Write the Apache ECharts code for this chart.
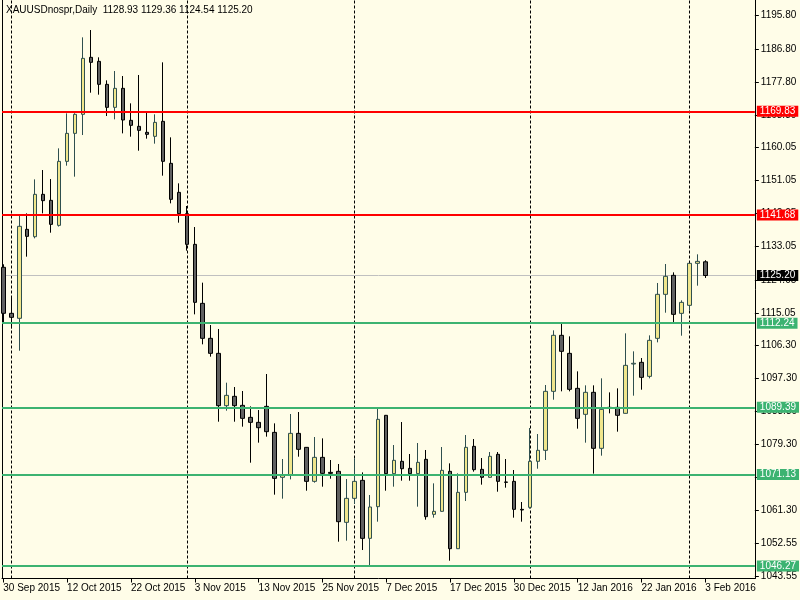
<!DOCTYPE html>
<html><head><meta charset="utf-8">
<script src="https://cdn.jsdelivr.net/npm/echarts@6/dist/echarts.min.js"></script>
<style>html,body{margin:0;padding:0;background:#FFFDE8}#c{width:800px;height:600px}</style>
</head><body><div id="c"></div>
<script>
const symbolTitle = 'XAUUSDnospr,Daily  1128.93 1129.36 1124.54 1125.20';
const dates = [
'2015-09-30',
'2015-10-01','2015-10-02','2015-10-05','2015-10-06','2015-10-07','2015-10-08','2015-10-09','2015-10-12','2015-10-13','2015-10-14','2015-10-15','2015-10-16','2015-10-19','2015-10-20','2015-10-21','2015-10-22','2015-10-23','2015-10-26','2015-10-27','2015-10-28','2015-10-29','2015-10-30',
'2015-11-02','2015-11-03','2015-11-04','2015-11-05','2015-11-06','2015-11-09','2015-11-10','2015-11-11','2015-11-12','2015-11-13','2015-11-16','2015-11-17','2015-11-18','2015-11-19','2015-11-20','2015-11-23','2015-11-24','2015-11-25','2015-11-26','2015-11-27','2015-11-30',
'2015-12-01','2015-12-02','2015-12-03','2015-12-04','2015-12-07','2015-12-08','2015-12-09','2015-12-10','2015-12-11','2015-12-14','2015-12-15','2015-12-16','2015-12-17','2015-12-18','2015-12-21','2015-12-22','2015-12-23','2015-12-24','2015-12-28','2015-12-29','2015-12-30','2015-12-31',
'2016-01-04','2016-01-05','2016-01-06','2016-01-07','2016-01-08','2016-01-11','2016-01-12','2016-01-13','2016-01-14','2016-01-15','2016-01-18','2016-01-19','2016-01-20','2016-01-21','2016-01-22','2016-01-25','2016-01-26','2016-01-27','2016-01-28','2016-01-29',
'2016-02-01','2016-02-02','2016-02-03'];
const opens = [1127.43,1114.93,1113.57,1137.75,1135.75,1147.26,1145.63,1138.83,1156.22,1163.83,
1169.00,1184.49,1183.40,1177.15,1170.90,1176.06,1167.37,1165.74,1164.11,1163.02,
1167.10,1155.68,1147.80,1142.01,1133.67,1117.64,1108.13,1104.05,1089.83,1092.37,
1089.92,1086.66,1085.30,1089.65,1082.58,1070.36,1070.90,1082.31,1078.51,1069.27,
1075.79,1071.71,1071.99,1058.13,1064.65,1069.54,1053.78,1062.39,1087.21,1071.36,
1074.71,1072.80,1071.36,1075.25,1060.30,1061.12,1071.99,1050.97,1066.28,1078.78,
1072.53,1070.36,1076.61,1069.10,1069.27,1061.66,1062.21,1074.71,1077.70,1093.73,
1108.95,1104.05,1094.54,1087.48,1093.46,1078.24,1089.38,1089.38,1087.75,1101.15,
1101.61,1097.80,1108.13,1120.09,1125.25,1114.92,1117.10,1128.51,1128.93];
const highs = [1128.25,1119.63,1141.64,1142.09,1151.33,1153.87,1151.42,1159.76,1169.27,1169.30,
1189.92,1191.91,1184.49,1178.24,1180.77,1179.41,1171.99,1179.69,1169.72,1169.00,
1183.13,1162.75,1150.25,1144.09,1138.38,1123.26,1111.75,1110.67,1096.08,1094.90,
1093.82,1089.65,1088.65,1098.44,1085.03,1075.34,1087.57,1088.11,1078.60,1081.32,
1080.95,1075.07,1073.98,1069.90,1075.52,1071.71,1065.56,1088.93,1087.30,1079.14,
1085.39,1076.70,1079.69,1077.79,1068.73,1078.60,1074.16,1071.45,1081.86,1080.77,
1075.61,1077.24,1077.24,1075.34,1072.35,1063.66,1083.76,1082.13,1095.45,1110.30,
1112.48,1108.67,1099.16,1095.36,1095.36,1097.26,1093.45,1094.54,1109.49,1104.60,
1102.78,1108.94,1123.17,1128.33,1126.06,1118.46,1128.60,1130.96,1129.36];
const lows = [1112.02,1110.85,1104.77,1130.32,1135.30,1142.09,1136.84,1138.50,1155.05,1152.06,
1163.38,1174.88,1174.34,1168.54,1167.64,1163.83,1162.93,1159.12,1162.39,1161.03,
1152.33,1144.81,1139.56,1131.95,1114.65,1106.50,1103.15,1085.48,1088.47,1085.48,
1084.13,1074.34,1079.78,1081.41,1065.65,1064.56,1069.81,1075.97,1066.73,1068.91,
1067.82,1069.99,1052.87,1053.15,1063.11,1050.61,1046.35,1058.31,1066.73,1067.82,
1069.45,1069.45,1062.39,1058.85,1059.40,1061.00,1047.71,1050.90,1063.93,1071.90,
1068.37,1070.30,1066.46,1067.55,1059.40,1058.31,1061.84,1072.71,1075.07,1091.46,
1093.73,1093.73,1083.58,1079.78,1071.36,1076.25,1087.75,1082.77,1087.70,1092.55,
1094.18,1097.26,1107.04,1115.10,1112.12,1108.85,1115.65,1122.44,1124.54];
const closes = [1114.93,1113.84,1138.57,1135.84,1147.26,1145.54,1139.10,1156.22,1163.83,1169.00,
1184.21,1183.13,1177.15,1170.90,1176.06,1167.46,1166.01,1164.65,1163.56,1166.82,
1156.23,1145.90,1142.01,1133.67,1117.91,1108.13,1104.05,1089.83,1092.64,1089.83,
1086.39,1085.30,1083.85,1082.77,1070.08,1070.90,1082.31,1077.97,1069.27,1075.79,
1071.44,1071.44,1058.31,1064.65,1069.27,1053.78,1062.30,1086.12,1071.36,1074.98,
1072.71,1071.36,1074.43,1059.67,1061.12,1072.26,1050.97,1066.28,1078.51,1072.44,
1070.36,1076.07,1069.27,1069.00,1061.66,1061.48,1074.71,1077.70,1093.73,1108.95,
1104.60,1094.27,1086.39,1093.46,1078.24,1088.84,1089.11,1087.21,1100.79,1101.35,
1097.53,1107.59,1120.09,1124.98,1114.65,1117.91,1128.51,1129.05,1125.20];
const yTickValues = [1043.55,1052.55,1061.30,1070.30,1079.30,1088.30,1097.30,1106.30,1115.05,1124.05,1133.05,1142.05,1151.05,1160.05,1168.80,1177.80,1186.80,1195.80];
const xLabelIndex = [0,8,16,24,32,40,48,56,64,72,80,88];
const redLevels = [1169.83, 1141.68];
const greenLevels = [1112.24, 1089.39, 1071.13, 1046.27];
const bidPrice = 1125.20;

const MON = ['Jan','Feb','Mar','Apr','May','Jun','Jul','Aug','Sep','Oct','Nov','Dec'];
function fmtDate(s){ const p = s.split('-'); return (+p[2]) + ' ' + MON[+p[1]-1] + ' ' + p[0]; }
const candles = dates.map((d,i)=>[i, opens[i], closes[i], lows[i], highs[i]]);
const monthStarts = [];
for (let i=1;i<dates.length;i++){ if (dates[i].slice(5,7)!==dates[i-1].slice(5,7)) monthStarts.push(i); }

const FONT = '"Liberation Sans", Arial, sans-serif';
const BG = '#FFFDE8';
function levelLine(v, color, textColor){
  return { yAxis: v, lineStyle:{color:color, width:2, type:'solid'},
    label:{ show:true, position:'end', distance:2, formatter: ()=>v.toFixed(2), color:textColor,
      backgroundColor:color, padding:[1,3,0,3], fontSize:10, lineHeight:10, fontFamily:FONT } };
}

const chart = echarts.init(document.getElementById('c'), null, {renderer:'canvas'});
chart.setOption({
  animation:false,
  backgroundColor: BG,
  title:{ text: symbolTitle, left:6, top:5, padding:0,
    textStyle:{fontSize:10, fontWeight:'normal', color:'#000', fontFamily:FONT} },
  grid:{ left:2, right:43, top:0, bottom:21.5, containLabel:false },
  xAxis:{ type:'value', min:-0.1625, max:94.2125,
    splitLine:{show:false},
    axisLine:{show:true, onZero:false, lineStyle:{color:'#000', width:1}},
    axisTick:{show:true, length:4, customValues:xLabelIndex, lineStyle:{color:'#000'}},
    axisLabel:{ customValues:xLabelIndex, formatter: v => fmtDate(dates[Math.round(v)]),
      align:'left', margin:5, color:'#000', fontSize:10, fontFamily:FONT } },
  yAxis:[{ type:'value', position:'right', min:1042.87, max:1200.07,
    splitLine:{show:false},
    axisLine:{show:true, onZero:false, lineStyle:{color:'#000', width:1}},
    axisTick:{show:true, length:4, customValues:yTickValues, lineStyle:{color:'#000'}},
    axisLabel:{ customValues:yTickValues, formatter: v => v.toFixed(2), margin:6,
      color:'#000', fontSize:10, fontFamily:FONT } },
   { type:'value', position:'left', min:1042.87, max:1200.07,
    splitLine:{show:false}, axisTick:{show:false}, axisLabel:{show:false},
    axisLine:{show:true, onZero:false, lineStyle:{color:'#000', width:1}} }],
  series:[
    { type:'line', data:[], silent:true, z:1,
      markLine:{ silent:true, symbol:'none', z:1, animation:false,
        data: monthStarts.map(i=>({ xAxis:i, lineStyle:{color:'#000', width:1, type:[3,2]}, label:{show:false} }))
          .concat([ levelLine(bidPrice, '#C0C0C0', '#fff') ].map(o=>{ o.lineStyle.width=1; o.label.backgroundColor='#000'; return o; })) } },
    { type:'candlestick', data:candles, barWidth:4, z:2, clip:true,
      itemStyle:{ color:'#F0E68C', color0:'#606060', borderColor:'#2F4F4F', borderColor0:'#000000', borderWidth:1 },
      markLine:{ silent:true, symbol:'none', z:5, animation:false,
        data: redLevels.map(v=>levelLine(v,'#FF0000','#fff')).concat(greenLevels.map(v=>levelLine(v,'#3CB371','#fff'))) } }
  ]
});
</script></body></html>
